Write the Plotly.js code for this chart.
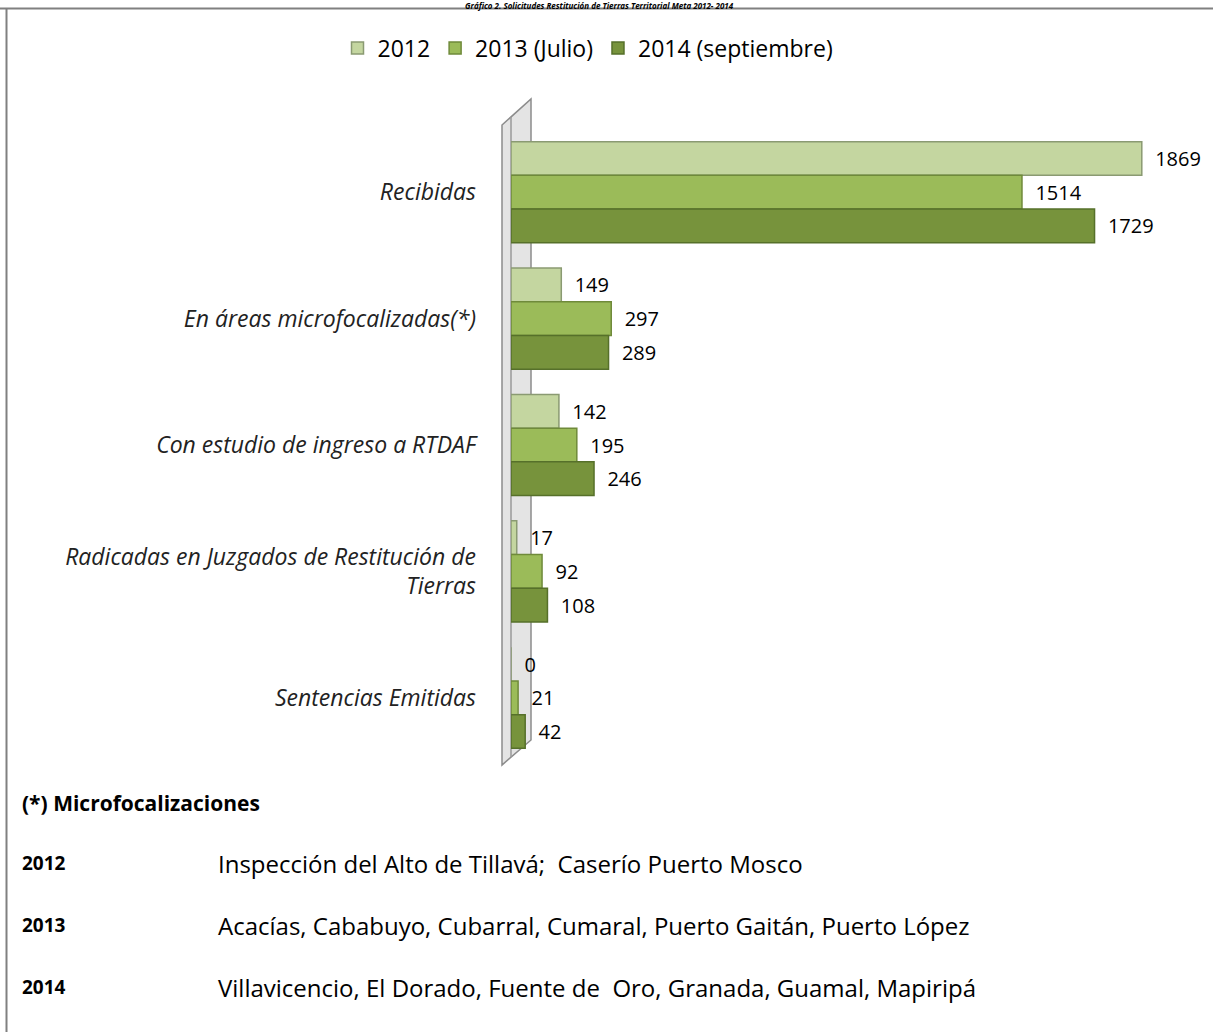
<!DOCTYPE html>
<html>
<head>
<meta charset="utf-8">
<script src="https://cdn.plot.ly/plotly-3.0.1.min.js"></script>
<style>html,body{margin:0;padding:0;background:#fff;}#chart{width:1213px;height:1032px;}</style>
</head>
<body>
<div id="chart"></div>
<script>
const categories = ["Recibidas", "En áreas microfocalizadas(*)", "Con estudio de ingreso a RTDAF", "Radicadas en Juzgados de Restitución de<br>Tierras", "Sentencias Emitidas"];
const seriesNames = ["2012", "2013 (Julio)", "2014 (septiembre)"];
const values2012 = [1869, 149, 142, 17, 0];
const values2013 = [1514, 297, 195, 92, 21];
const values2014 = [1729, 289, 246, 108, 42];
const seriesColors = ["#c4d6a0", "#9bbb59", "#77933c"];
const seriesLines = ["#8a9a72", "#6f8a3a", "#56702a"];
const noteTitle = "(*) Microfocalizaciones";
const noteYears = ["2012", "2013", "2014"];
const noteTexts = ["Inspección del Alto de Tillavá;  Caserío Puerto Mosco",
  "Acacías, Cababuyo, Cubarral, Cumaral, Puerto Gaitán, Puerto López",
  "Villavicencio, El Dorado, Fuente de  Oro, Granada, Guamal, Mapiripá"];
const chartTitle = "Gráfico 2. Solicitudes Restitución de Tierras Territorial Meta 2012- 2014";

const FONT = "'Open Sans', Lato, sans-serif";
const allValues = [values2012, values2013, values2014];
const traces = allValues.map((vals, i) => ({
  type: "bar", orientation: "h", name: seriesNames[i],
  x: vals, y: categories,
  marker: {color: seriesColors[i], line: {color: seriesLines[i], width: 1.5}},
  text: vals.map(String), texttemplate: "\u00a0\u00a0%{text}", textposition: "outside", cliponaxis: false,
  textfont: {family: FONT, size: 20, color: "#000"},
  hoverinfo: "x+name"
}));

// pixel -> paper helpers (plot area: x 511..1186, y 129..761)
const L = 511, R = 1186, T = 129, B = 761;
const px = v => (v - L) / (R - L);
const py = v => (B - v) / (B - T);

const shapes = [
  {type: "path", xref: "paper", yref: "paper", layer: "below",
   path: `M ${px(502)} ${py(125)} L ${px(531)} ${py(99)} L ${px(531)} ${py(740)} L ${px(502)} ${py(765)} Z`,
   fillcolor: "#e4e4e4", line: {color: "#8c8c8c", width: 1.5}},
  {type: "line", xref: "paper", yref: "paper", layer: "below",
   x0: px(511), x1: px(511), y0: py(117), y1: py(757), line: {color: "#9a9a9a", width: 1.5}},
  {type: "line", xref: "paper", yref: "paper", x0: px(0), x1: px(1213), y0: py(8.5), y1: py(8.5), line: {color: "#808080", width: 2}},
  {type: "line", xref: "paper", yref: "paper", x0: px(6.5), x1: px(6.5), y0: py(8.5), y1: py(1032), line: {color: "#808080", width: 2}}
];

const annotations = [
  {xref: "paper", yref: "paper", x: px(599), y: py(-1), xanchor: "center", yanchor: "top", showarrow: false,
   text: "<b><i>" + chartTitle + "</i></b>", font: {family: FONT, size: 8, color: "#000"}, borderpad: 0},
  {xref: "paper", yref: "paper", x: px(20), y: py(803), xanchor: "left", yanchor: "middle", showarrow: false,
   text: "<b>" + noteTitle + "</b>", font: {family: FONT, size: 21, color: "#000"}}
];
const rowY = [863, 925, 987];
noteYears.forEach((yr, i) => {
  annotations.push({xref: "paper", yref: "paper", x: px(20), y: py(rowY[i]), xanchor: "left", yanchor: "middle", showarrow: false,
    text: "<b>" + yr + "</b>", font: {family: FONT, size: 19, color: "#000"}});
  annotations.push({xref: "paper", yref: "paper", x: px(216), y: py(rowY[i]), xanchor: "left", yanchor: "middle", showarrow: false,
    text: noteTexts[i], font: {family: FONT, size: 24, color: "#000"}});
});

const layout = {
  width: 1213, height: 1032,
  margin: {l: L, r: 1213 - R, t: T, b: 1032 - B, pad: 0},
  paper_bgcolor: "#fff", plot_bgcolor: "rgba(0,0,0,0)",
  barmode: "group", bargap: 0.2, bargroupgap: 0,
  showlegend: true,
  legend: {orientation: "h", xref: "paper", yref: "paper", x: px(588), y: py(48), xanchor: "center", yanchor: "middle",
    font: {family: FONT, size: 23, color: "#000"}, itemwidth: 30, tracegroupgap: 0},
  xaxis: {range: [0, 2000], visible: false, showgrid: false, zeroline: false},
  yaxis: {autorange: "reversed", type: "category", showline: false, showgrid: false, zeroline: false,
    ticks: "", ticklabelstandoff: 34,
    tickfont: {family: FONT, size: 23, color: "#222", style: "italic"}},
  font: {family: FONT},
  shapes: shapes, annotations: annotations
};

Plotly.newPlot("chart", traces, layout, {displayModeBar: false, staticPlot: true});
</script>
</body>
</html>
